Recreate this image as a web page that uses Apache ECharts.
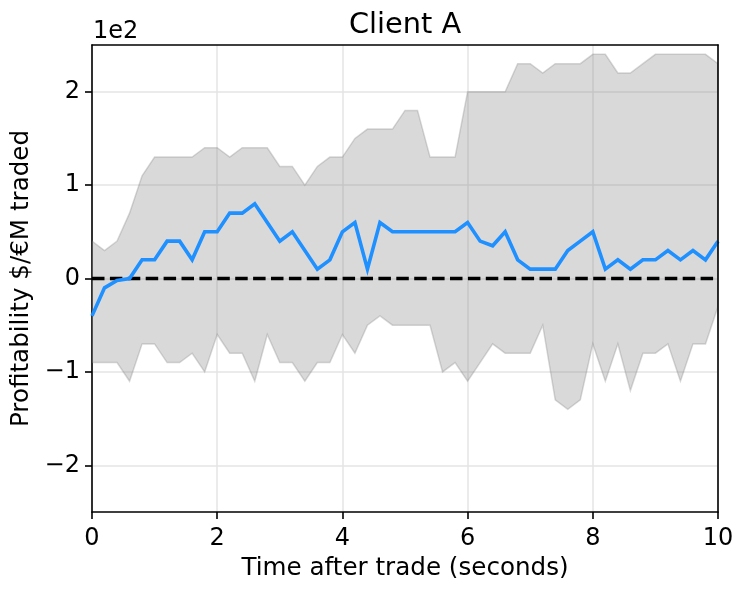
<!DOCTYPE html>
<html>
<head>
<meta charset="utf-8">
<script src="https://cdn.jsdelivr.net/npm/echarts@6/dist/echarts.min.js"></script>
<style>
html,body{margin:0;padding:0;background:#fff;}
#chart{width:747px;height:592px;}
</style>
</head>
<body>
<div id="chart"></div>
<script>
// ---- data (profitability in $/€M, axis shown in units of 1e2) ----
const times = [0,0.2,0.4,0.6,0.8,1.0,1.2,1.4,1.6,1.8,2.0,2.2,2.4,2.6,2.8,3.0,3.2,3.4,3.6,3.8,
  4.0,4.2,4.4,4.6,4.8,5.0,5.2,5.4,5.6,5.8,6.0,6.2,6.4,6.6,6.8,7.0,7.2,7.4,7.6,7.8,
  8.0,8.2,8.4,8.6,8.8,9.0,9.2,9.4,9.6,9.8,10.0];
const meanValues = [-40,-10,-2,0,20,20,40,40,20,50,50,70,70,80,60,40,50,30,10,20,
  50,60,10,60,50,50,50,50,50,50,60,40,35,50,20,10,10,10,30,40,
  50,10,20,10,20,20,30,20,30,20,40];
const upperValues = [40,30,40,70,110,130,130,130,130,140,140,130,140,140,140,120,120,100,120,130,
  130,150,160,160,160,180,180,130,130,130,200,200,200,200,230,230,220,230,230,230,
  240,240,220,220,230,240,240,240,240,240,230];
const lowerValues = [-90,-90,-90,-110,-70,-70,-90,-90,-80,-100,-60,-80,-80,-110,-60,-90,-90,-110,-90,-90,
  -60,-80,-50,-40,-50,-50,-50,-50,-100,-90,-110,-90,-70,-80,-80,-80,-50,-130,-140,-130,
  -70,-110,-70,-120,-80,-80,-70,-110,-70,-70,-30];
const xTicks = [0,2,4,6,8,10];
const yTicks = [-200,-100,0,100,200];
const yTickLabels = ['\u22122','\u22121','0','1','2'];
const yScaleText = '1e2';
const titleText = 'Client A';
const xLabel = 'Time after trade (seconds)';
const yLabel = 'Profitability $/\u20acM traded';

const FONT = 'DejaVu Sans';
const bandColor = 'rgba(128,128,128,0.3)';

const bandData = times.map((t, i) => [t, lowerValues[i], upperValues[i]]);
const meanData = times.map((t, i) => [t, meanValues[i]]);
const zeroData = [[xTicks[0], 0], [xTicks[xTicks.length - 1], 0]];

function renderBand(params, api) {
  if (params.dataIndex !== 0) return null;
  const pts = [];
  for (let i = 0; i < times.length; i++) pts.push(api.coord([times[i], upperValues[i]]));
  for (let i = times.length - 1; i >= 0; i--) pts.push(api.coord([times[i], lowerValues[i]]));
  return {
    type: 'polygon',
    shape: {points: pts},
    style: {fill: bandColor, stroke: bandColor, lineWidth: 1.5, lineJoin: 'miter'}
  };
}

const chart = echarts.init(document.getElementById('chart'), null, {renderer: 'canvas'});
const axisLineStyle = {color: '#000', width: 1.6};
chart.setOption({
  animation: false,
  backgroundColor: '#fff',
  textStyle: {fontFamily: FONT},
  title: [
    {text: titleText, left: 400, top: 6, textAlign: 'center',
     textStyle: {fontFamily: FONT, fontSize: 28.8, fontWeight: 'normal', color: '#000'}},
    {text: yScaleText, left: 88, top: 15,
     textStyle: {fontFamily: FONT, fontSize: 24, fontWeight: 'normal', color: '#000'}}
  ],
  grid: {left: 92, right: 29, top: 45, bottom: 80, containLabel: false},
  xAxis: [{
    type: 'value', min: 0, max: 10, interval: 2,
    name: xLabel, nameLocation: 'middle', nameGap: 44,
    nameTextStyle: {fontFamily: FONT, fontSize: 24.6, color: '#000'},
    axisLine: {show: true, onZero: false, lineStyle: axisLineStyle},
    axisTick: {show: true, length: 7, lineStyle: {color: '#000', width: 1.6}},
    axisLabel: {show: true, margin: 15, fontFamily: FONT, fontSize: 24, color: '#000',
                showMinLabel: true, showMaxLabel: true},
    splitLine: {show: true, lineStyle: {color: '#e4e4e4', width: 1.5}}
  }, {
    type: 'value', min: 0, max: 10, position: 'top', z: 10,
    axisLine: {show: true, onZero: false, lineStyle: axisLineStyle},
    axisTick: {show: false}, axisLabel: {show: false}, splitLine: {show: false}
  }],
  yAxis: [{
    type: 'value', min: -250, max: 250,
    name: yLabel, nameLocation: 'middle', nameGap: 41,
    nameTextStyle: {fontFamily: FONT, fontSize: 24.6, color: '#000'},
    axisLine: {show: true, onZero: false, lineStyle: axisLineStyle},
    axisTick: {show: true, length: 7, customValues: yTicks, lineStyle: {color: '#000', width: 1.6}},
    axisLabel: {show: true, margin: 12, fontFamily: FONT, fontSize: 24, color: '#000',
                customValues: yTicks,
                formatter: (v) => { const k = yTicks.indexOf(v); return k >= 0 ? yTickLabels[k] : ''; }},
    splitLine: {show: true, lineStyle: {color: '#e4e4e4', width: 1.5}}
  }, {
    type: 'value', min: -250, max: 250, position: 'right', z: 10,
    axisLine: {show: true, onZero: false, lineStyle: axisLineStyle},
    axisTick: {show: false}, axisLabel: {show: false}, splitLine: {show: false}
  }],
  series: [
    {name: 'band', type: 'custom', data: bandData, renderItem: renderBand,
     encode: {x: 0, y: [1, 2]}, z: 2, silent: true, clip: true},
    {name: 'zero', type: 'line', data: zeroData, symbol: 'none', z: 3, silent: true,
     lineStyle: {color: '#000', width: 3.4, type: [12.5, 5.4]}},
    {name: 'mean', type: 'line', data: meanData, symbol: 'none', z: 4, silent: true,
     lineStyle: {color: '#1e90ff', width: 3.6, join: 'miter'}}
  ]
});
</script>
</body>
</html>
